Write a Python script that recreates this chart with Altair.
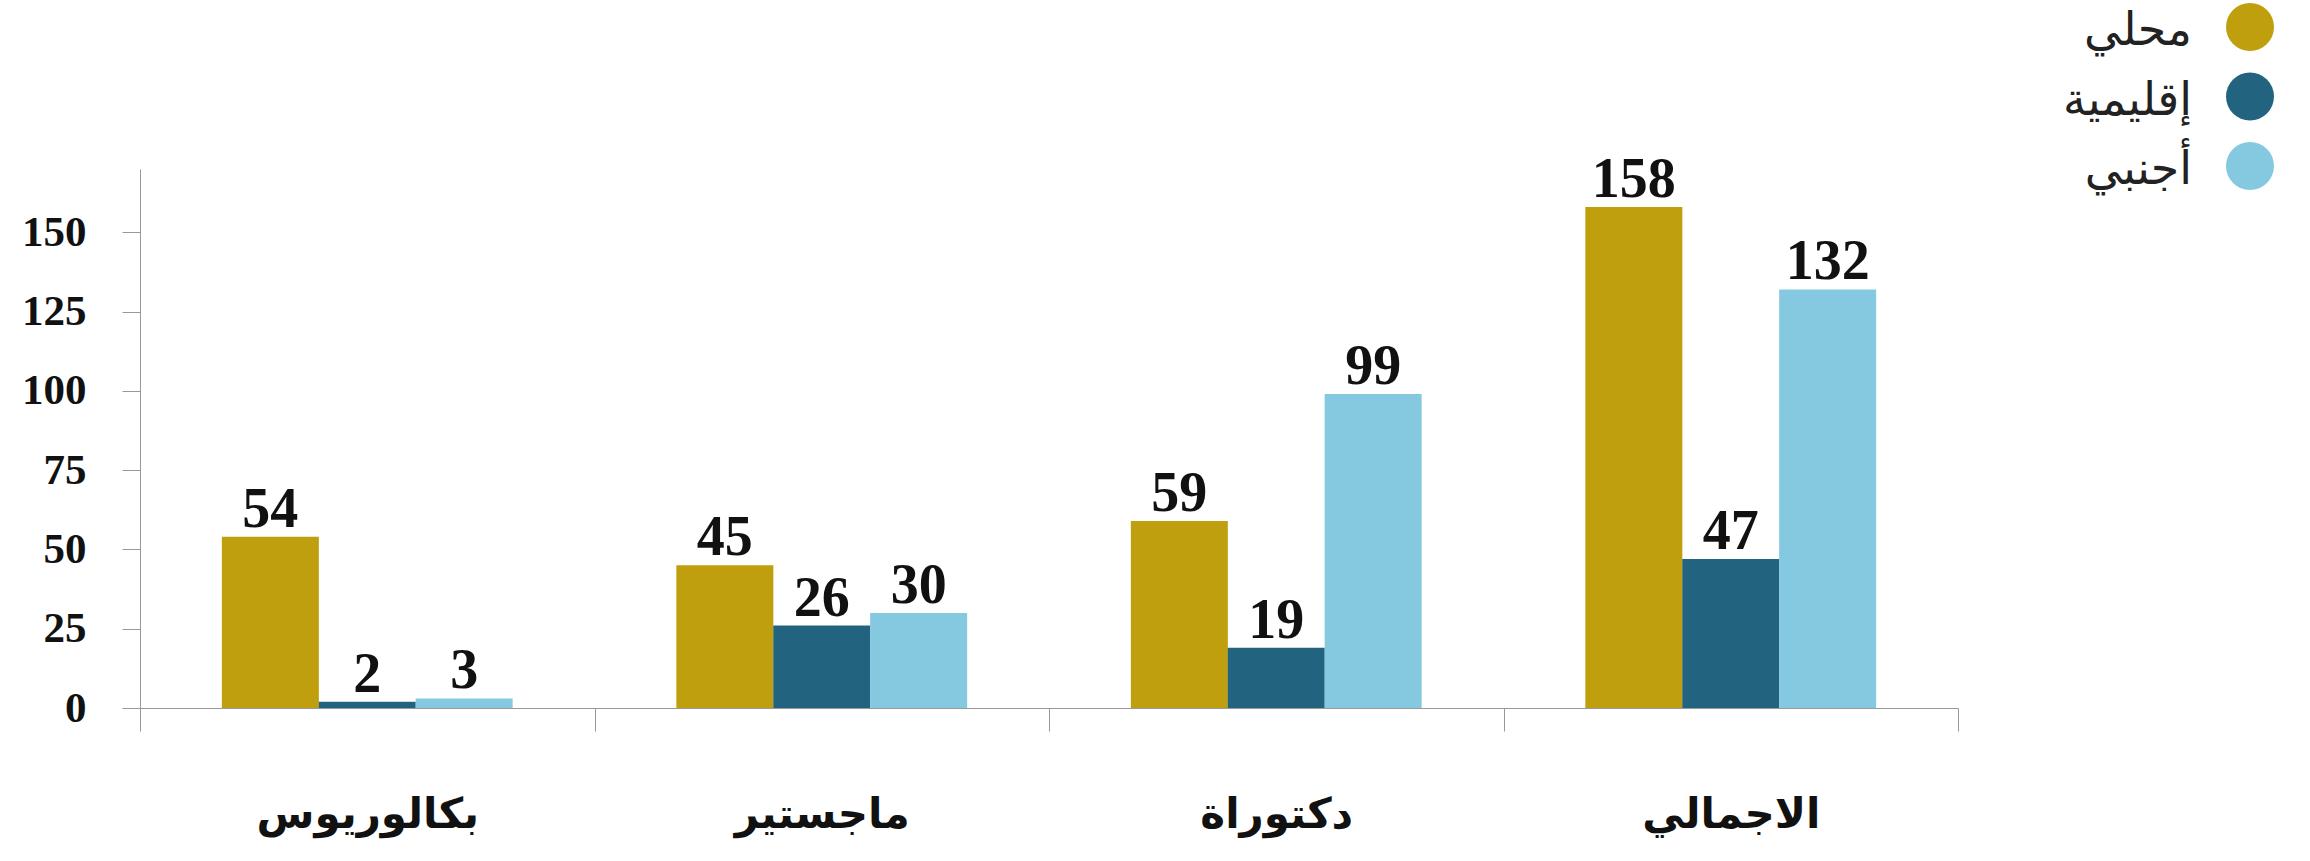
import altair as alt
import pandas as pd

categories = ["بكالوريوس", "ماجستير", "دكتوراة", "الاجمالي"]
series = ["محلي", "إقليمية", "أجنبي"]
local_vals = [54, 45, 59, 158]
regional_vals = [2, 26, 19, 47]
foreign_vals = [3, 30, 99, 132]
colors = ["#BF9F0E", "#226480", "#85C9E0"]
y_ticks = [0, 25, 50, 75, 100, 125, 150]

rows = []
for s, vals in zip(series, [local_vals, regional_vals, foreign_vals]):
    for c, v in zip(categories, vals):
        rows.append({"cat": c, "series": s, "value": v})
df = pd.DataFrame(rows)
legend_df = pd.DataFrame({"series": series})

color_scale = alt.Scale(domain=series, range=colors)

x_enc = alt.X("cat:N", sort=categories, title=None,
              scale=alt.Scale(paddingInner=0, paddingOuter=0),
              axis=alt.Axis(labelAngle=0, tickBand="extent", tickSize=23,
                            labelPadding=96, labelBaseline="alphabetic",
                            labelFontSize=42, labelFontWeight="bold",
                            labelFont="DejaVu Sans", labelColor="#111",
                            domainColor="#999", tickColor="#999",
                            labelLimit=0))
xoff = alt.XOffset("series:N", sort=series,
                   scale=alt.Scale(paddingOuter=0.845, paddingInner=0))
y_enc = alt.Y("value:Q", title=None,
              scale=alt.Scale(domain=[0, 170], nice=False),
              axis=alt.Axis(values=y_ticks, tickSize=18, labelPadding=36,
                            grid=False, labelFontSize=43, labelFontWeight="bold",
                            labelFont="Liberation Serif", labelColor="#111",
                            domainColor="#999", tickColor="#999"))

base = alt.Chart(df).encode(x=x_enc, xOffset=xoff, y=y_enc)
bars = base.mark_bar(size=97).encode(
    color=alt.Color("series:N", sort=series, scale=color_scale, legend=None))
labels = base.mark_text(baseline="alphabetic", dy=-10, fontSize=56,
                        fontWeight="bold", font="Liberation Serif",
                        color="#111").encode(text="value:Q")
main = alt.layer(bars, labels)

# Legend (right-to-left: label to the left of the circle)
leg_y = alt.Y("series:N", sort=series, axis=None,
              scale=alt.Scale(type="point", range=[-142, -3], padding=0))
leg_base = alt.Chart(legend_df).encode(y=leg_y)
leg_circles = leg_base.mark_circle(size=2304, opacity=1).encode(
    x=alt.value(2110),
    color=alt.Color("series:N", sort=series, scale=color_scale, legend=None))
leg_text = leg_base.mark_text(align="right", baseline="middle", fontSize=46,
                              font="DejaVu Sans", color="#222", dy=4).encode(
    x=alt.value(2052), text="series:N")
legend = alt.layer(leg_circles, leg_text)

chart = alt.layer(main, legend).resolve_scale(y="independent").properties(
    width=1818, height=539,
    background="white",
    autosize=alt.AutoSizeParams(type="none"),
    padding={"left": 140, "top": 169, "right": 352, "bottom": 153},
).configure_view(stroke="transparent", strokeWidth=0)

chart.save("out.html", embed_options={"renderer": "svg", "actions": False})
